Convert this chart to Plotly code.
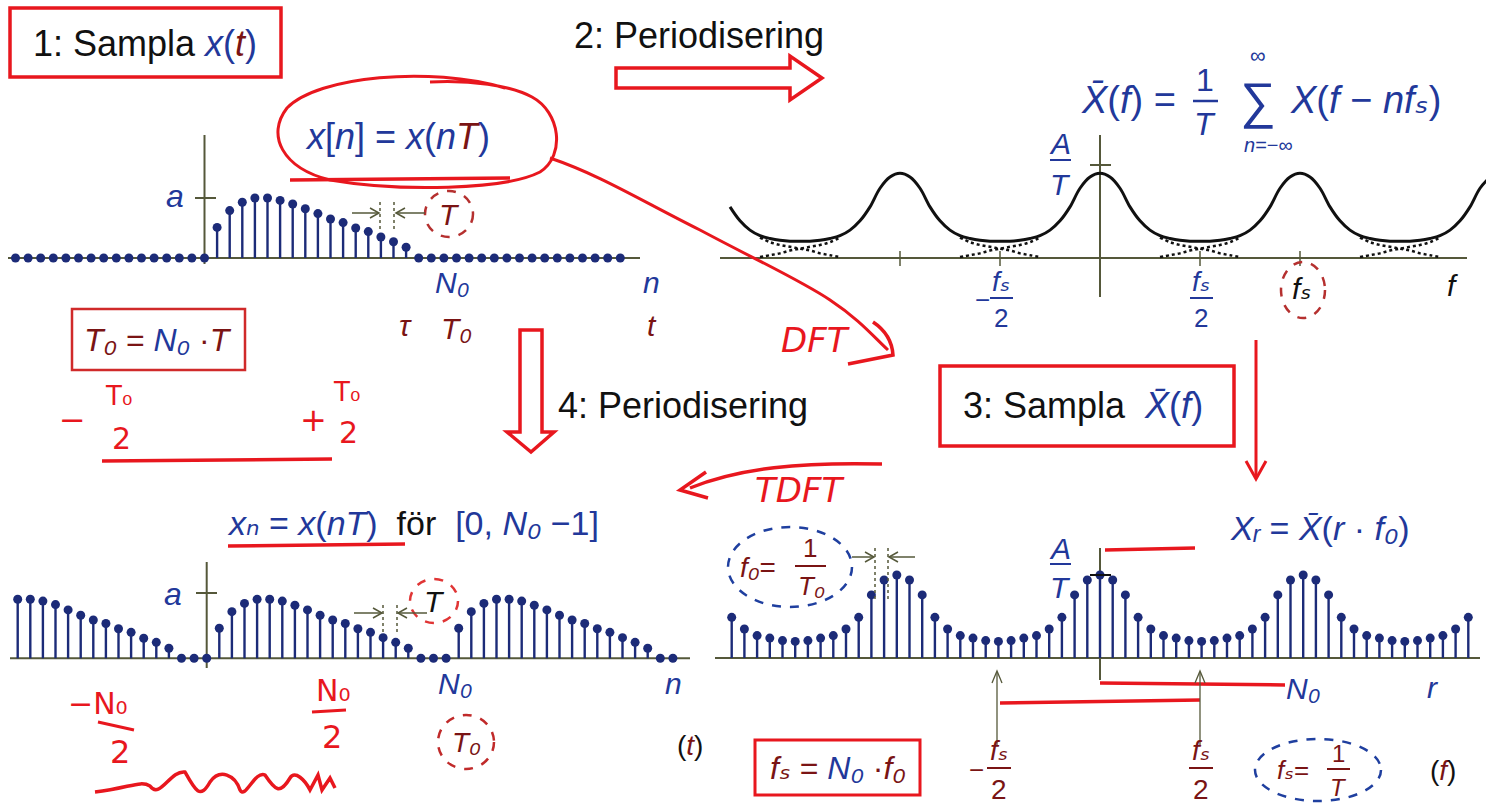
import plotly.graph_objects as go

W, H = 1486, 809
BLUE = "#22389a"
DRED = "#7a1414"
RED = "#e8171e"
NAVY = "#1c2b78"
OLIVE = "#55583a"
BLACK = "#111111"
FONT = "Liberation Sans, Arial, DejaVu Sans, sans-serif"
HAND = "DejaVu Sans, sans-serif"

# ---------------- data ----------------
# 1: sampled pulse x[n]
n_sample = list(range(-15, 34))
x_sample = [0, 0, 0, 0, 0, 0, 0, 0, 0, 0, 0, 0, 0, 0, 0, 0,
            0.51, 0.79, 0.93, 1.00, 1.00, 0.96, 0.90, 0.82, 0.74, 0.65, 0.59, 0.50, 0.44, 0.35, 0.27, 0.18,
            0, 0, 0, 0, 0, 0, 0, 0, 0, 0, 0, 0, 0, 0, 0, 0, 0]

# 2: periodised spectrum Xbar(f), f in units of fs, value in units of A/T
f_axis = [round(-1.85 + 0.05 * k, 2) for k in range(77)]
Xbar_f = [0.55, 0.40, 0.30, 0.24, 0.21, 0.19, 0.18, 0.18, 0.18, 0.19, 0.21, 0.24, 0.30, 0.40, 0.55, 0.75, 0.87,
          0.91, 0.87, 0.75, 0.55, 0.40, 0.30, 0.24, 0.21, 0.19, 0.18, 0.18, 0.18, 0.19, 0.21, 0.24, 0.30, 0.40, 0.55, 0.75, 0.87,
          0.91, 0.87, 0.75, 0.55, 0.40, 0.30, 0.24, 0.21, 0.19, 0.18, 0.18, 0.18, 0.19, 0.21, 0.24, 0.30, 0.40, 0.55, 0.75, 0.87,
          0.91, 0.87, 0.75, 0.55, 0.40, 0.30, 0.24, 0.21, 0.19, 0.18, 0.18, 0.18, 0.19, 0.21, 0.24, 0.30, 0.40, 0.55, 0.75, 0.87]
# overlapping tails of the single spectra X(f - n fs) around the midpoints
tail_mid = [-1.5, -0.5, 0.5, 1.5]
tail_df = [-0.20, -0.15, -0.10, -0.05, 0.0, 0.05, 0.10, 0.15, 0.20]
tail_val = [0.22, 0.17, 0.14, 0.12, 0.10, 0.08, 0.05, 0.03, 0.01]

# 3: sampled spectrum X_r
r_index = list(range(-29, 30))
X_r = [0.49, 0.35, 0.27, 0.24, 0.21, 0.20, 0.21, 0.24, 0.27, 0.35, 0.49, 0.76, 0.94, 1.00,
       0.94, 0.76, 0.49, 0.35, 0.27, 0.24, 0.21, 0.20, 0.21, 0.24, 0.27, 0.35, 0.49, 0.76, 0.94,
       1.00,
       0.94, 0.76, 0.49, 0.35, 0.27, 0.24, 0.21, 0.20, 0.21, 0.24, 0.27, 0.35, 0.49, 0.76, 0.94,
       1.00,
       0.94, 0.76, 0.49, 0.35, 0.27, 0.24, 0.21, 0.20, 0.21, 0.24, 0.27, 0.35, 0.49]

# 4: periodised sequence x_n
n_period = list(range(-15, 38))
x_period = [1.00, 1.00, 0.97, 0.91, 0.82, 0.73, 0.65, 0.59, 0.50, 0.44, 0.34, 0.27, 0.17, 0, 0,
            0,
            0.51, 0.79, 0.93, 1.00, 1.00, 0.97, 0.90, 0.82, 0.73, 0.65, 0.59, 0.50, 0.44, 0.35, 0.27, 0.17,
            0, 0, 0,
            0.51, 0.79, 0.93, 1.00, 1.00, 0.97, 0.90, 0.82, 0.73, 0.65, 0.59, 0.50, 0.44, 0.35, 0.27, 0.17,
            0, 0]

# ---------------- figure ----------------
fig = go.Figure()


def xdom(a, b, o, s):
    return dict(domain=[a / W, b / W], range=[(a - o) / s, (b - o) / s], visible=False, fixedrange=True)


def ydom(top, bot, base, s):
    return dict(domain=[1 - bot / H, 1 - top / H], range=[(base - bot) / s, (base - top) / s], visible=False, fixedrange=True)


def add_stems(xs, ys, xa, ya, color=NAVY):
    sx, sy = [], []
    for xv, yv in zip(xs, ys):
        if yv:
            sx += [xv, xv, None]
            sy += [0, yv, None]
    fig.add_trace(go.Scatter(x=sx, y=sy, mode="lines", line=dict(color=color, width=2.4),
                             xaxis=xa, yaxis=ya, hoverinfo="skip", showlegend=False))
    fig.add_trace(go.Scatter(x=xs, y=ys, mode="markers", marker=dict(color=color, size=9),
                             xaxis=xa, yaxis=ya, cliponaxis=False, showlegend=False))


# overlay (pixel) axes first so that everything else is drawn above its lower layer
fig.add_trace(go.Scatter(x=[0], y=[0], mode="markers", marker=dict(size=1, opacity=0),
                         xaxis="x", yaxis="y", showlegend=False, hoverinfo="skip"))

add_stems(n_sample, x_sample, "x2", "y2")

fig.add_trace(go.Scatter(x=f_axis, y=Xbar_f, mode="lines", line=dict(color=BLACK, width=3, shape="spline"),
                         xaxis="x3", yaxis="y3", showlegend=False, hoverinfo="skip"))
for m in tail_mid:
    fig.add_trace(go.Scatter(x=[m + d for d in tail_df], y=tail_val, mode="lines",
                             line=dict(color=BLACK, width=2.5, dash="dot", shape="spline"),
                             xaxis="x3", yaxis="y3", showlegend=False, hoverinfo="skip"))
    fig.add_trace(go.Scatter(x=[m + d for d in tail_df], y=tail_val[::-1], mode="lines",
                             line=dict(color=BLACK, width=2.5, dash="dot", shape="spline"),
                             xaxis="x3", yaxis="y3", showlegend=False, hoverinfo="skip"))

add_stems(r_index, X_r, "x4", "y4")
add_stems(n_period, x_period, "x5", "y5")

ann = []
shapes = []


def T(x, y, text, size=30, color=BLACK, xa="center", ya="middle", family=FONT):
    ann.append(dict(x=x, y=y, xref="x", yref="y", text=text, showarrow=False,
                    font=dict(size=size, color=color, family=family), xanchor=xa, yanchor=ya))


def L(x0, y0, x1, y1, color=RED, width=3, dash=None, layer="above"):
    ln = dict(color=color, width=width)
    if dash:
        ln["dash"] = dash
    shapes.append(dict(type="line", xref="x", yref="y", x0=x0, y0=y0, x1=x1, y1=y1, line=ln, layer=layer))


def R(x0, y0, x1, y1, color=RED, width=3):
    shapes.append(dict(type="rect", xref="x", yref="y", x0=x0, y0=y0, x1=x1, y1=y1,
                       line=dict(color=color, width=width)))


def E(cx, cy, rx, ry, color, width=2.5, dash="dash"):
    shapes.append(dict(type="circle", xref="x", yref="y", x0=cx - rx, y0=cy - ry, x1=cx + rx, y1=cy + ry,
                       line=dict(color=color, width=width, dash=dash)))


def P(path, color=RED, width=3.5, fill=None):
    d = dict(type="path", xref="x", yref="y", path=path, line=dict(color=color, width=width))
    if fill:
        d["fillcolor"] = fill
    shapes.append(d)


def c(t, col):
    return f"<span style='color:{col}'>{t}</span>"


def i(t):
    return f"<i>{t}</i>"


SUB0 = "\u2080"   # subscript 0
SUBS = "\u209b"   # subscript s
SUBN = "\u2099"   # subscript n
SUBR = "\u1d63"   # subscript r
XBAR = "X\u0304"

# axis lines (drawn below the stems)
L(8, 258, 640, 258, OLIVE, 2, layer="below")
L(204.5, 135, 204.5, 264, OLIVE, 2, layer="below")
L(10, 658.3, 690, 658.3, OLIVE, 2, layer="below")
L(206.7, 562, 206.7, 668, OLIVE, 2, layer="below")
L(720, 258, 1467, 258, OLIVE, 2, layer="below")
L(1100, 135, 1100, 297, OLIVE, 2, layer="below")
L(715, 658, 1480, 658, OLIVE, 2, layer="below")
L(1100, 548, 1100, 680, OLIVE, 2, layer="below")

# ---- panel 1 ----
R(10, 8, 281, 77, RED, 3.5)
T(145, 43, "1: Sampla " + c(i("x") + "(", BLUE) + c(i("t"), DRED) + c(")", BLUE), 36)
T(397, 136, c(i("x") + "[" + i("n") + "] = " + i("x") + "(" + i("n"), BLUE) + c(i("T"), DRED) + c(")", BLUE), 36)
T(175, 196, i("a"), 32, BLUE)
L(195, 198, 216, 198, OLIVE, 2)
T(452, 282, i("N" + SUB0), 30, BLUE)
T(651, 282, i("n"), 30, BLUE)
T(405, 325, i("τ"), 30, DRED)
T(456, 328, i("T" + SUB0), 30, DRED)
T(652, 325, i("t"), 30, DRED)
E(449, 214, 24, 23, "#b5302f")
T(449, 214, i("T"), 30, DRED)
L(352, 213, 378, 213, OLIVE, 1.5)
P("M 370,208 L 379,213 L 370,218", OLIVE, 1.5)
L(396, 213, 425, 213, OLIVE, 1.5)
P("M 405,208 L 396,213 L 405,218", OLIVE, 1.5)
L(380, 202, 380, 232, OLIVE, 1.5, "dot")
L(394, 202, 394, 232, OLIVE, 1.5, "dot")
R(72, 309, 245, 370, "#d02a2a", 2.5)
T(158, 340, c(i("T" + SUB0) + " = ", DRED) + c(i("N" + SUB0), BLUE) + c(" ·" + i("T"), DRED), 32)

# hand written red notes (left)
T(72, 420, "−", 32, RED, family=HAND)
T(118, 396, "T" + SUB0, 26, RED, family=HAND)
T(121, 438, "2", 30, RED, family=HAND)
T(313, 420, "+", 32, RED, family=HAND)
T(346, 392, "T" + SUB0, 26, RED, family=HAND)
T(348, 432, "2", 30, RED, family=HAND)
L(102, 461, 332, 459, RED, 3.5)

# ellipse around x[n] and DFT stroke
P("M 505,88 C 430,66 318,76 287,108 C 266,135 282,168 330,180 C 400,192 505,190 540,172 "
  "C 566,155 560,112 532,97 C 510,85 470,80 430,82", RED, 3)
L(290, 180, 510, 178, RED, 3.5)
P("M 550,158 C 600,175 640,200 700,230 C 760,262 800,280 830,300 C 860,320 872,335 888,350", RED, 3)
P("M 873,322 C 885,330 892,340 893,355 L 848,364", RED, 3.5)
T(815, 340, i("DFT"), 34, RED, family=HAND)

# ---- panel 2 ----
T(699, 35, "2: Periodisering", 36)
P("M 616,68 L 790,68 L 790,56 L 822,78 L 790,100 L 790,88 L 616,88 Z", RED, 3.5, fill="white")
T(1178, 100, c(i(XBAR) + "(" + i("f") + ") =", BLUE), 38, xa="right")
T(1205, 80, "1", 32, BLUE)
L(1193, 101, 1218, 101, BLUE, 2.5)
T(1205, 124, i("T"), 32, BLUE)
T(1258, 101, "∑", 50, BLUE)
T(1258, 55, "∞", 22, BLUE)
T(1268, 145, i("n") + "=−∞", 20, BLUE)
T(1288, 100, c(i("X") + "(" + i("f") + " − " + i("nf" + SUBS) + ")", BLUE), 38, xa="left")
T(1060, 143, i("A"), 30, BLUE)
L(1050, 160, 1071, 160, BLUE, 2)
T(1060, 184, i("T"), 30, BLUE)
L(1090, 165, 1111, 165, OLIVE, 2)
for xt in (900, 1000, 1200, 1300):
    L(xt, 251, xt, 266, OLIVE, 1.5)
T(982, 300, "−", 26, BLUE)
T(1001, 281, i("f" + SUBS), 28, BLUE)
L(990, 298, 1013, 298, BLUE, 2)
T(1001, 318, "2", 26, BLUE)
T(1201, 281, i("f" + SUBS), 28, BLUE)
L(1190, 298, 1213, 298, BLUE, 2)
T(1201, 318, "2", 26, BLUE)
E(1303, 290, 22, 28, "#b5302f")
T(1302, 288, i("f" + SUBS), 30, BLACK)
T(1452, 285, i("f"), 30, BLACK)

# ---- panel 3 ----
R(940, 366, 1234, 446, RED, 3.5)
T(1083, 405, "3: Sampla  " + c(i(XBAR) + "(" + i("f") + ")", BLUE), 36)
L(1256, 340, 1256, 476, RED, 3)
P("M 1246,461 L 1256,479 L 1266,461", RED, 3)
T(1228, 528, c(i("X" + SUBR) + " = " + i(XBAR) + "(" + i("r") + " · " + i("f" + SUB0) + ")", BLUE), 34, xa="left")
L(1105, 550, 1195, 548, RED, 3.5)
T(1060, 548, i("A"), 30, BLUE)
L(1050, 564, 1071, 564, BLUE, 2)
T(1060, 587, i("T"), 30, BLUE)
L(1090, 575, 1111, 575, BLACK, 2)
E(790, 567, 62, 40, "#1f3f9f", 2.5)
T(758, 567, c(i("f" + SUB0) + "=", DRED), 28)
T(810, 548, "1", 26, DRED)
L(795, 566, 826, 566, DRED, 2)
T(811, 586, i("T" + SUB0), 26, DRED)
L(852, 557, 873, 557, OLIVE, 1.5)
P("M 865,552 L 874,557 L 865,562", OLIVE, 1.5)
L(889, 557, 915, 557, OLIVE, 1.5)
P("M 898,552 L 889,557 L 898,562", OLIVE, 1.5)
L(875, 548, 875, 600, OLIVE, 1.5, "dot")
L(888, 548, 888, 600, OLIVE, 1.5, "dot")
T(1303, 688, i("N" + SUB0), 30, BLUE)
T(1432, 687, i("r"), 30, BLUE)
L(1100, 683, 1285, 685, RED, 3.5)
L(1000, 703, 1200, 700, RED, 3.5)
for xu in (997, 1200):
    L(xu, 745, xu, 672, OLIVE, 1.3)
    P(f"M {xu - 5},683 L {xu},671 L {xu + 5},683", OLIVE, 1.3)
R(755, 740, 920, 795, RED, 3)
T(838, 768, c(i("f" + SUBS) + " = ", DRED) + c(i("N" + SUB0), BLUE) + c(" ·" + i("f" + SUB0), DRED), 32)
T(976, 770, "−", 26, DRED)
T(999, 750, i("f" + SUBS), 28, DRED)
L(987, 768, 1011, 768, DRED, 2)
T(999, 789, "2", 28, DRED)
T(1201, 750, i("f" + SUBS), 28, DRED)
L(1189, 768, 1213, 768, DRED, 2)
T(1201, 789, "2", 28, DRED)
E(1318, 770, 63, 31, "#1f3f9f", 2.5)
T(1293, 770, c(i("f" + SUBS) + "=", DRED), 26)
T(1338, 753, "1", 24, DRED)
L(1327, 769, 1350, 769, DRED, 2)
T(1338, 787, i("T"), 24, DRED)
T(1443, 770, "(" + c(i("f"), DRED) + ")", 28)

# ---- panel 4 ----
P("M 520,330 L 542,330 L 542,432 L 554,432 L 531,452 L 507,432 L 520,432 Z", RED, 3.5, fill="white")
T(683, 405, "4: Periodisering", 36)
T(225, 523, c(i("x" + SUBN) + " = " + i("x") + "(" + i("nT") + ")", BLUE) + "  för  "
  + c("[0, " + i("N" + SUB0) + " −1]", BLUE), 34, xa="left")
L(228, 546, 405, 544, RED, 3.5)
P("M 882,464 C 800,462 740,468 690,488", RED, 3.5)
P("M 706,472 L 680,490 L 708,498", RED, 3.5)
T(800, 490, i("TDFT"), 34, RED, family=HAND)
T(173, 594, i("a"), 32, BLUE)
L(196, 593, 217, 593, OLIVE, 2)
E(434, 601, 24, 22, "#e03535")
T(434, 601, i("T"), 30, BLACK)
L(354, 613, 381, 613, OLIVE, 1.5)
P("M 373,608 L 382,613 L 373,618", OLIVE, 1.5)
L(398, 613, 427, 613, OLIVE, 1.5)
P("M 407,608 L 398,613 L 407,618", OLIVE, 1.5)
L(383, 605, 383, 632, OLIVE, 1.5, "dot")
L(397, 605, 397, 632, OLIVE, 1.5, "dot")
T(455, 683, i("N" + SUB0), 30, BLUE)
T(673, 683, i("n"), 30, BLUE)
E(466, 742, 28, 27, "#c02a2a")
T(466, 742, i("T" + SUB0), 28, DRED)
T(690, 745, "(" + c(i("t"), DRED) + ")", 28)
T(98, 703, "−N" + SUB0, 30, RED, family=HAND)
L(98, 722, 134, 730, RED, 3)
T(120, 752, "2", 32, RED, family=HAND)
T(333, 690, "N" + SUB0, 30, RED, family=HAND)
L(312, 712, 346, 710, RED, 3)
T(332, 737, "2", 32, RED, family=HAND)
P("M 95,792 C 130,788 140,780 150,786 C 160,800 170,770 185,772 C 195,790 200,800 210,782 "
  "C 220,768 235,775 240,790 C 245,800 255,770 265,775 C 275,790 280,795 290,778 "
  "C 295,770 305,780 310,790 L 318,775 L 322,790 L 330,778 L 335,788", RED, 3.5)

fig.update_layout(
    width=W, height=H, margin=dict(l=0, r=0, t=0, b=0),
    paper_bgcolor="white", plot_bgcolor="rgba(0,0,0,0)",
    showlegend=False,
    xaxis=dict(domain=[0, 1], range=[0, W], visible=False, fixedrange=True),
    yaxis=dict(domain=[0, 1], range=[H, 0], visible=False, fixedrange=True),
    xaxis2=dict(anchor="y2", **xdom(0, 660, 204.5, 12.6)),
    yaxis2=dict(anchor="x2", **ydom(110, 300, 258, 60)),
    xaxis3=dict(anchor="y3", **xdom(700, 1486, 1100, 200)),
    yaxis3=dict(anchor="x3", **ydom(110, 310, 258, 93)),
    xaxis4=dict(anchor="y4", **xdom(700, 1486, 1100, 12.7)),
    yaxis4=dict(anchor="x4", **ydom(520, 700, 658, 83)),
    xaxis5=dict(anchor="y5", **xdom(0, 700, 206.7, 12.6)),
    yaxis5=dict(anchor="x5", **ydom(520, 700, 658.3, 59)),
    annotations=ann,
    shapes=shapes,
)

fig.write_html("out.html", config={"displayModeBar": False},
               post_script="document.body.style.margin='0px';document.body.style.overflow='hidden';")
